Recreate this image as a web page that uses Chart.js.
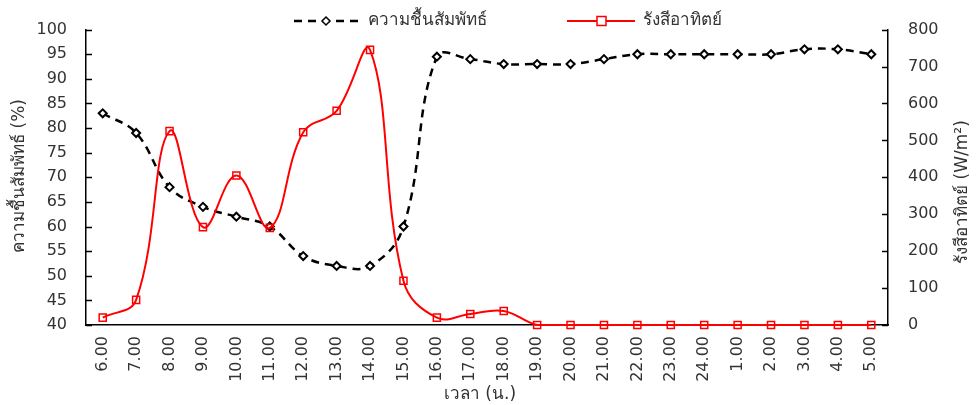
<!DOCTYPE html>
<html>
<head>
<meta charset="utf-8">
<script src="https://cdn.jsdelivr.net/npm/chart.js@4/dist/chart.umd.min.js"></script>
<style>
  html, body { margin: 0; padding: 0; background: #fff; }
  #wrap { width: 979px; height: 405px; position: relative; }
</style>
</head>
<body>
<div id="wrap"><canvas id="chart"></canvas></div>
<script>
const timeLabels = [
  "6.00", "7.00", "8.00", "9.00", "10.00", "11.00", "12.00", "13.00",
  "14.00", "15.00", "16.00", "17.00", "18.00", "19.00", "20.00", "21.00",
  "22.00", "23.00", "24.00", "1.00", "2.00", "3.00", "4.00", "5.00"
];

// ความชื้นสัมพัทธ์ (%)
const humidity = [83, 79, 68, 64, 62, 60, 54, 52, 52, 60, 94.5, 94, 93, 93, 93, 94, 95, 95, 95, 95, 95, 96, 96, 95];

// รังสีอาทิตย์ (W/m2)
const radiation = [20, 68, 525, 265, 405, 263, 522, 580, 745, 120, 20, 30, 38, 0, 0, 0, 0, 0, 0, 0, 0, 0, 0, 0];

const leftTicks = { min: 40, max: 100, step: 5 };
const rightTicks = { min: 0, max: 800, step: 100 };

const FONT = "Tahoma, 'DejaVu Sans', 'Noto Sans', sans-serif";
const TEXT = "#333";

// legend, titles and inward tick marks drawn by hand so they look like the original
const extras = {
  id: "extras",
  afterDraw(chart) {
    const ctx = chart.ctx;
    const area = chart.chartArea;
    ctx.save();

    // inward tick marks on both value axes
    ctx.strokeStyle = "#000";
    ctx.lineWidth = 1.5;
    for (const id of ["y", "y1"]) {
      const sc = chart.scales[id];
      const x0 = id === "y" ? area.left : area.right;
      const dir = id === "y" ? 1 : -1;
      sc.ticks.forEach(t => {
        const py = Math.round(sc.getPixelForValue(t.value)) + 0.5;
        ctx.beginPath();
        ctx.moveTo(x0, py);
        ctx.lineTo(x0 + dir * 6, py);
        ctx.stroke();
      });
    }

    ctx.font = "17px " + FONT;
    ctx.fillStyle = TEXT;
    ctx.textBaseline = "middle";

    const ly = 21;
    // humidity entry
    ctx.strokeStyle = "#000";
    ctx.lineWidth = 2.5;
    ctx.setLineDash([8, 6]);
    ctx.beginPath();
    ctx.moveTo(294, ly);
    ctx.lineTo(358, ly);
    ctx.stroke();
    ctx.setLineDash([]);
    ctx.fillStyle = "#fff";
    ctx.lineWidth = 1.5;
    ctx.beginPath();
    ctx.moveTo(326, ly - 4);
    ctx.lineTo(330, ly);
    ctx.lineTo(326, ly + 4);
    ctx.lineTo(322, ly);
    ctx.closePath();
    ctx.fill();
    ctx.stroke();
    ctx.fillStyle = TEXT;
    ctx.fillText("ความชื้นสัมพัทธ์", 368, ly);

    // radiation entry
    ctx.strokeStyle = "#ff0000";
    ctx.lineWidth = 2;
    ctx.beginPath();
    ctx.moveTo(567, ly);
    ctx.lineTo(635, ly);
    ctx.stroke();
    ctx.fillStyle = "#fff";
    ctx.fillRect(597, ly - 4.5, 9, 9);
    ctx.lineWidth = 1.5;
    ctx.strokeRect(597, ly - 4.5, 9, 9);
    ctx.fillStyle = TEXT;
    ctx.fillText("รังสีอาทิตย์", 643, ly);

    // x title
    ctx.textAlign = "center";
    ctx.fillText("เวลา (น.)", 480, 395);

    // left title, reading bottom to top
    ctx.save();
    ctx.translate(20, 176);
    ctx.rotate(-Math.PI / 2);
    ctx.fillText("ความชื้นสัมพัทธ์ (%)", 0, 0);
    ctx.restore();

    // right title, reading bottom to top
    ctx.translate(963, 192);
    ctx.rotate(-Math.PI / 2);
    ctx.fillText("รังสีอาทิตย์ (W/m²)", 0, 0);
    ctx.restore();
  }
};

function render() {
  const canvas = document.getElementById("chart");
  if (!window.Chart || !canvas) return;

  new Chart(canvas, {
    type: "line",
    data: {
      labels: timeLabels,
      datasets: [
        {
          label: "รังสีอาทิตย์",
          data: radiation,
          yAxisID: "y1",
          borderColor: "#ff0000",
          borderWidth: 2,
          backgroundColor: "#fff",
          pointStyle: "rect",
          pointRadius: 5,
          pointBorderWidth: 1.5,
          pointBorderColor: "#ff0000",
          pointBackgroundColor: "rgba(255,255,255,0)",
          tension: 0.4,
          clip: 8,
          order: 1
        },
        {
          label: "ความชื้นสัมพัทธ์",
          data: humidity,
          yAxisID: "y",
          borderColor: "#000",
          borderWidth: 2.5,
          borderDash: [8, 6],
          pointStyle: "rectRot",
          pointRadius: 4,
          pointBorderWidth: 2,
          pointBorderColor: "#000",
          pointBackgroundColor: "#fff",
          tension: 0.4,
          clip: 8,
          order: 2
        }
      ]
    },
    options: {
      responsive: true,
      maintainAspectRatio: false,
      animation: false,
      layout: { padding: { top: 26, left: 0, right: 0, bottom: 0 } },
      plugins: {
        legend: { display: false },
        tooltip: { enabled: false }
      },
      scales: {
        x: {
          offset: true,
          grid: { display: false, drawTicks: false },
          border: { color: "#000", width: 1.5 },
          ticks: {
            color: TEXT,
            font: { family: FONT, size: 16 },
            minRotation: 90,
            maxRotation: 90,
            autoSkip: false,
            padding: 11
          },
          afterFit(scale) { scale.height = 80; }
        },
        y: {
          position: "left",
          min: leftTicks.min,
          max: leftTicks.max,
          grid: { display: false, drawTicks: false },
          border: { color: "#000", width: 1.5 },
          ticks: {
            stepSize: leftTicks.step,
            color: TEXT,
            font: { family: FONT, size: 16 },
            padding: 19
          },
          afterFit(scale) { scale.width = 86; }
        },
        y1: {
          position: "right",
          min: rightTicks.min,
          max: rightTicks.max,
          grid: { display: false, drawTicks: false },
          border: { color: "#000", width: 1.5 },
          ticks: {
            stepSize: rightTicks.step,
            color: TEXT,
            font: { family: FONT, size: 16 },
            padding: 20
          },
          afterFit(scale) { scale.width = 91; }
        }
      }
    },
    plugins: [extras]
  });
}

window.addEventListener("DOMContentLoaded", render);
</script>
</body>
</html>
